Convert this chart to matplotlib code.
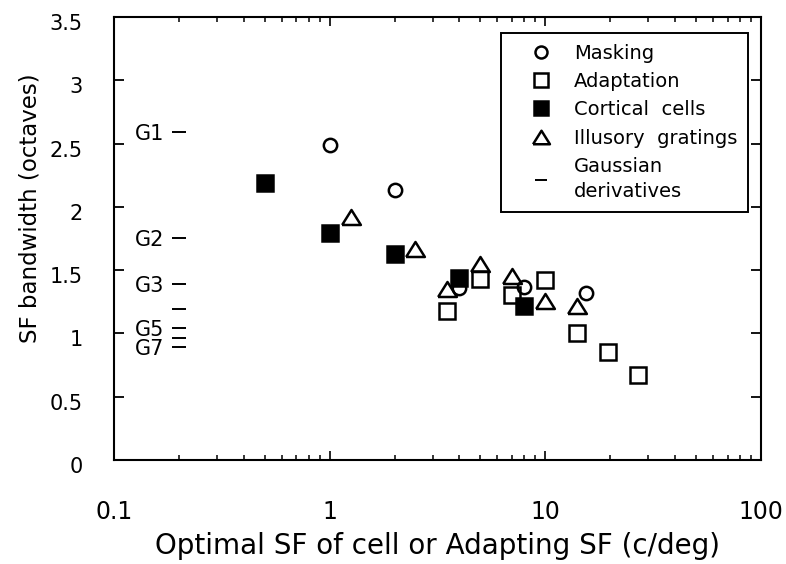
import matplotlib
matplotlib.use("Agg")
import matplotlib.pyplot as plt
from matplotlib.transforms import ScaledTranslation

# Bandwidth (octaves) against optimal / adapting spatial frequency (c/deg)
masking_sf = [1, 2, 4, 8, 15.5]
masking_bw = [2.49, 2.13, 1.36, 1.37, 1.32]

adaptation_sf = [3.5, 5, 7, 10, 14, 19.5, 27]
adaptation_bw = [1.18, 1.43, 1.30, 1.42, 1.00, 0.85, 0.67]

cortical_sf = [0.5, 1, 2, 4, 8]
cortical_bw = [2.19, 1.79, 1.63, 1.44, 1.22]

illusory_sf = [1.26, 2.5, 3.5, 5, 7, 10, 14]
illusory_bw = [1.92, 1.67, 1.35, 1.55, 1.45, 1.26, 1.22]

# Gaussian derivative filters G1..G7 (only some are labelled)
gauss_names = ["G1", "G2", "G3", "", "G5", "", "G7"]
gauss_bw = [2.59, 1.75, 1.39, 1.19, 1.04, 0.96, 0.895]
gauss_sf = 0.2

yticks = [0, 0.5, 1, 1.5, 2, 2.5, 3, 3.5]
ytick_labels = ["0", "0.5", "1", "1.5", "2", "2.5", "3", "3.5"]
xticks = [0.1, 1, 10, 100]
xtick_labels = ["0.1", "1", "10", "100"]

plt.rcParams["font.family"] = ["DejaVu Sans"]

DPI = 100
fig = plt.figure(figsize=(7.86, 5.64), dpi=DPI)
ax = fig.add_axes([0.1450, 0.1844, 0.8232, 0.7855])

lw = 1.5
mew = 1.8
tri = [(-1, -0.8), (1, -0.8), (0, 0.8), (-1, -0.8)]

ax.plot(masking_sf, masking_bw, linestyle="none", marker="o", ms=9.6,
        mfc="none", mec="black", mew=mew, label="Masking", zorder=3)
ax.plot(adaptation_sf, adaptation_bw, linestyle="none", marker="s", ms=11,
        mfc="none", mec="black", mew=mew, label="Adaptation", zorder=3)
ax.plot(cortical_sf, cortical_bw, linestyle="none", marker="s", ms=11,
        mfc="black", mec="black", mew=mew, label="Cortical  cells", zorder=4)
ax.plot(illusory_sf, illusory_bw, linestyle="none", marker=tri, ms=13.5,
        mfc="none", mec="black", mew=mew, label="Illusory  gratings", zorder=3)
ax.plot([gauss_sf] * len(gauss_bw), gauss_bw, linestyle="none", marker="_",
        ms=10, mec="black", mew=1.4, label="Gaussian\nderivatives", zorder=3)

for name, bw in zip(gauss_names, gauss_bw):
    if name:
        ax.annotate(name, xy=(gauss_sf, bw), xytext=(-15, -2),
                    textcoords="offset pixels", ha="right", va="center",
                    fontsize=15)

ax.set_xscale("log")
ax.set_xlim(0.1, 100)
ax.set_ylim(0, 3.5)
ax.set_xticks(xticks)
ax.set_xticklabels(xtick_labels, fontsize=17)
ax.set_yticks(yticks)
ax.set_yticklabels(ytick_labels, fontsize=15)

for s in ax.spines.values():
    s.set_linewidth(lw)

ax.tick_params(axis="y", which="major", direction="in", length=7, width=1.3,
               left=True, right=True, pad=22.3)
ax.tick_params(axis="x", which="major", direction="in", length=6.5, width=1.2,
               bottom=True, top=True, pad=29)
ax.tick_params(axis="x", which="minor", direction="in", length=3.6, width=1.1,
               bottom=True, top=True, labelbottom=False)

shift = ScaledTranslation(0, -5 / DPI, fig.dpi_scale_trans)
for lab in ax.get_yticklabels():
    lab.set_transform(lab.get_transform() + shift)

ax.set_xlabel("Optimal SF of cell or Adapting SF (c/deg)", fontsize=20)
ax.xaxis.set_label_coords(0.5, -0.163)
ax.set_ylabel("SF bandwidth (octaves)", fontsize=16.5, va="center", ha="center")
ax.yaxis.set_label_coords(-0.130, 0.569)

leg = ax.legend(loc="upper right", bbox_to_anchor=(0.980, 0.964),
                fontsize=14, frameon=True, fancybox=False, framealpha=1,
                edgecolor="black", borderpad=0.55, labelspacing=0.48,
                handlelength=3.0, handletextpad=0.2, borderaxespad=0,
                markerscale=0.9, numpoints=1)
leg.get_frame().set_linewidth(1.4)
for t in leg.get_texts():
    t.set_linespacing(1.4)

fig.savefig("out.png", dpi=DPI)
